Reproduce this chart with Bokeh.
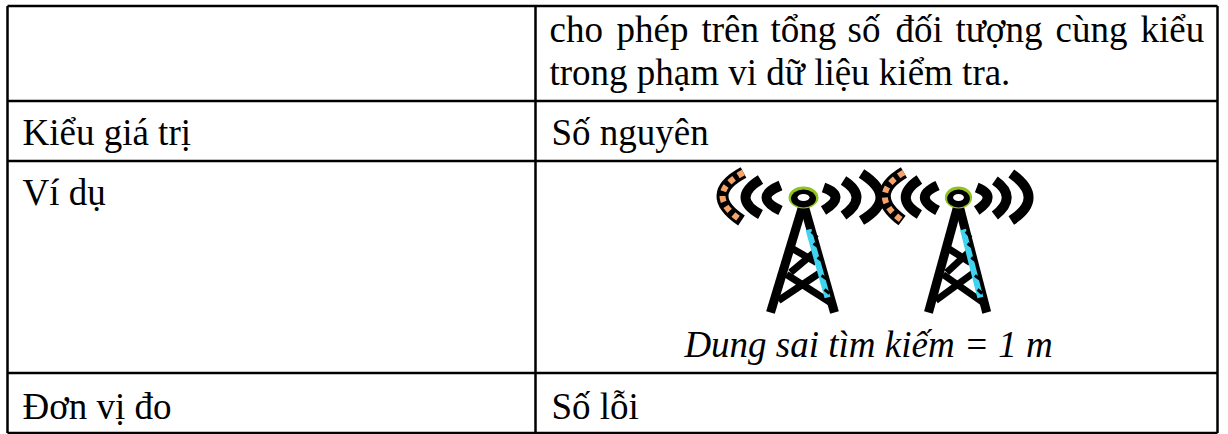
from bokeh.plotting import figure
from bokeh.embed import file_html
from bokeh.resources import INLINE
from bokeh.core.properties import value

FONT = "Liberation Serif"
BLACK = "#000000"
W, H = 1228, 434
SIZE = "37px"
TO_MIDDLE = 11.5

h_rules_y = [5.5, 100.5, 160.5, 372.5, 432.5]
v_rules_x = [7, 535, 1217]

line1_words = ["cho", "phép", "trên", "tổng", "số", "đối", "tượng", "cùng", "kiểu"]
line1_x = [549, 616, 701, 770, 847, 895, 955, 1055, 1140]
line1_base = 40
labels = ["trong phạm vi dữ liệu kiểm tra.", "Kiểu giá trị", "Số nguyên", "Ví dụ", "Đơn vị đo", "Số lỗi"]
labels_x = [549, 22, 551, 22, 22, 551]
labels_base = [83, 143, 143, 203, 417, 417]
caption = "Dung sai tìm kiếm = 1 m"
caption_x = 868
caption_base = 355

towers_cx = [803, 958]
towers_sx = [1.0, 0.91]
tower_cy = 197

arcs = [(20, -10, 32, 0, 20, 13), (40, -17, 53, 0, 40, 18), (58, -24, 77, 0, 58, 23),
        (-23, -12, -37, 0, -23, 13), (-43, -18, -58, 0, -43, 17)]
outer_left = (-60, -25, -81, -2, -62, 23)
leg_left = (0, 6, -33, 115)
leg_right = (0, 6, 31, 115)
bars = [(-25, 103, 17, 75), (30, 107, -17, 77), (-13, 75, 12, 54), (13, 65, -13, 50)]
blue_leg = (5, 32, 24, 100)
blue_marks = [(8, 34, 14, 40), (10, 46, 16, 50), (14, 60, 20, 64), (18, 78, 24, 82), (21, 92, 26, 96)]
ring_green = "#8fc31f"
orange = "#f4a46a"
cyan = "#3fd3f0"

p = figure(width=W, height=H, x_range=(0, W), y_range=(H, 0), output_backend="svg",
           toolbar_location=None, min_border=0)
p.axis.visible = False
p.grid.visible = False
p.outline_line_color = None

for y in h_rules_y:
    p.line([v_rules_x[0], v_rules_x[-1]], [y, y], line_color=BLACK, line_width=2.5)
for x in v_rules_x:
    p.line([x, x], [h_rules_y[0], h_rules_y[-1]], line_color=BLACK, line_width=2.5)

p.text(line1_x, [line1_base - TO_MIDDLE] * len(line1_x), text=line1_words, text_font=value(FONT),
       text_font_size=SIZE, text_color=BLACK, text_baseline="middle", text_align="left")
p.text(labels_x, [b - TO_MIDDLE for b in labels_base], text=labels, text_font=value(FONT),
       text_font_size=SIZE, text_color=BLACK, text_baseline="middle", text_align="left")
p.text([caption_x], [caption_base - TO_MIDDLE], text=[caption], text_font=value(FONT), text_font_style="italic",
       text_font_size=SIZE, text_color=BLACK, text_baseline="middle", text_align="center")


def quad(a, cx, sx, **kw):
    x0, y0, xm, ym, x1, y1 = a
    p.quadratic(x0=[cx + sx * x0], y0=[tower_cy + y0], x1=[cx + sx * x1], y1=[tower_cy + y1],
                cx=[cx + sx * (2 * xm - (x0 + x1) / 2)], cy=[tower_cy + 2 * ym - (y0 + y1) / 2], **kw)


for cx, sx in zip(towers_cx, towers_sx):
    for a in arcs:
        quad(a, cx, sx, line_color=BLACK, line_width=10)
    quad(outer_left, cx, sx, line_color=BLACK, line_width=12)
    quad(outer_left, cx, sx, line_color=orange, line_width=6, line_dash="6 5")
    for l in (leg_left, leg_right):
        p.line([cx + sx * l[0], cx + sx * l[2]], [tower_cy + l[1], tower_cy + l[3]], line_color=BLACK, line_width=9)
    for b in bars:
        p.line([cx + sx * b[0], cx + sx * b[2]], [tower_cy + b[1], tower_cy + b[3]], line_color=BLACK, line_width=7)
    p.line([cx + sx * blue_leg[0], cx + sx * blue_leg[2]], [tower_cy + blue_leg[1], tower_cy + blue_leg[3]],
           line_color=cyan, line_width=6)
    for m in blue_marks:
        p.line([cx + sx * m[0], cx + sx * m[2]], [tower_cy + m[1], tower_cy + m[3]], line_color=BLACK, line_width=3)
    p.ellipse(x=[cx], y=[tower_cy], width=[30 * sx], height=[22], fill_color=ring_green, line_color=None)
    p.ellipse(x=[cx], y=[tower_cy + 1], width=[25 * sx], height=[18], fill_color=BLACK, line_color=None)
    p.ellipse(x=[cx], y=[tower_cy], width=[12 * sx], height=[7], fill_color="#ffffff", line_color=None)

open("out.html", "w").write(file_html(p, INLINE))
